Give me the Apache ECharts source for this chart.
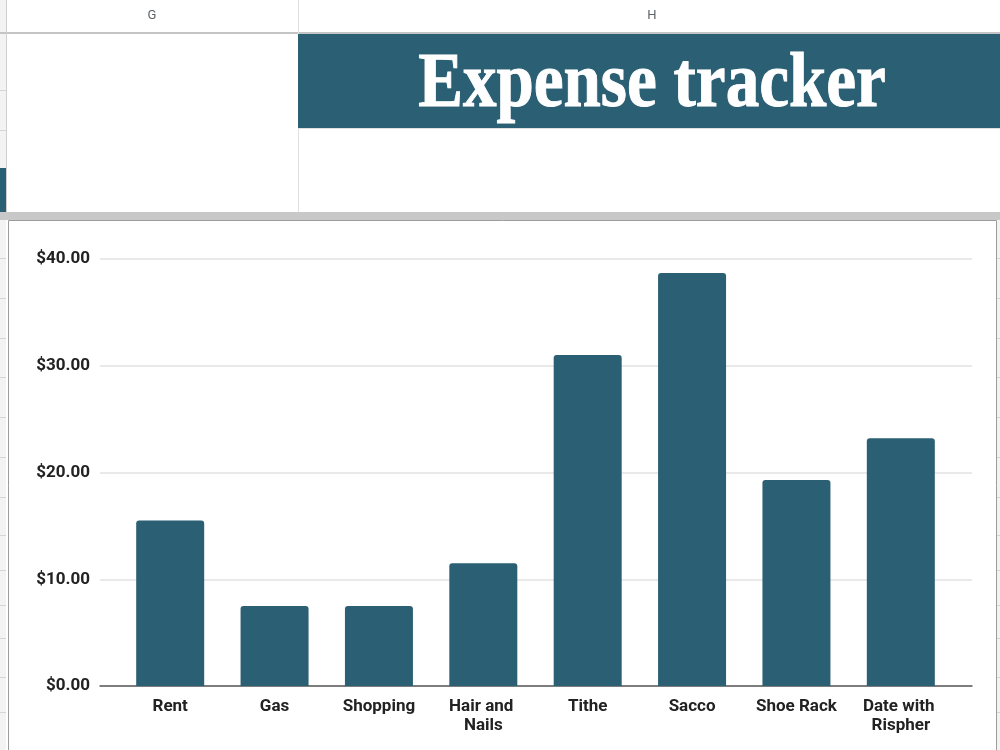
<!DOCTYPE html>
<html>
<head>
<meta charset="utf-8">
<script src="https://cdn.jsdelivr.net/npm/echarts@6/dist/echarts.min.js"></script>
<style>
  html, body { margin: 0; padding: 0; background: #fff; }
  #chart { width: 1000px; height: 750px; }
</style>
</head>
<body>
<div id="chart"></div>
<script>
var categories = ["Rent", "Gas", "Shopping", "Hair and Nails", "Tithe", "Sacco", "Shoe Rack", "Date with Rispher"];
var amounts = [15.5, 7.5, 7.5, 11.5, 31, 38.7, 19.3, 23.2];
var yTicks = [0, 10, 20, 30, 40];

var teal = "#2a5f74";
var chart = echarts.init(document.getElementById("chart"));

// sheet row lines on the left/right strip (decoration only)
var rowLines = [258, 298, 338, 377, 417, 457, 497, 535, 570, 605, 638, 677, 712];
var sheetBits = [
  // header row + strips
  { type: "rect", shape: { x: 0, y: 0, width: 6, height: 750 }, style: { fill: "#f3f3f3" } },
  { type: "rect", shape: { x: 997, y: 220, width: 3, height: 530 }, style: { fill: "#f3f3f3" } },
  { type: "line", shape: { x1: 0, y1: 33, x2: 1000, y2: 33 }, style: { stroke: "#c4c4c4", lineWidth: 2 } },
  { type: "line", shape: { x1: 6.5, y1: 0, x2: 6.5, y2: 212 }, style: { stroke: "#cfcfcf", lineWidth: 1 } },
  { type: "line", shape: { x1: 298.5, y1: 0, x2: 298.5, y2: 212 }, style: { stroke: "#e0e0e0", lineWidth: 1 } },
  { type: "line", shape: { x1: 0, y1: 90.5, x2: 6, y2: 90.5 }, style: { stroke: "#d6d6d6", lineWidth: 1 } },
  { type: "line", shape: { x1: 0, y1: 130.5, x2: 6, y2: 130.5 }, style: { stroke: "#d6d6d6", lineWidth: 1 } },
  { type: "rect", shape: { x: 0, y: 168, width: 6, height: 44 }, style: { fill: teal } },
  { type: "text", x: 152, y: 16, style: { text: "G", font: "13px Roboto", fill: "#5f6368", align: "center", verticalAlign: "middle" } },
  { type: "text", x: 652, y: 16, style: { text: "H", font: "13px Roboto", fill: "#5f6368", align: "center", verticalAlign: "middle" } },
  // title banner
  { type: "rect", shape: { x: 298, y: 34, width: 702, height: 94 }, style: { fill: teal } },
  { type: "line", shape: { x1: 298, y1: 128.5, x2: 1000, y2: 128.5 }, style: { stroke: "#e0e0e0", lineWidth: 1 } },
  { type: "text", x: 652, y: 86, scaleX: 0.86, originX: 0, originY: 0,
    style: { text: "Expense tracker", font: "bold 78px 'Liberation Serif', 'Times New Roman', serif", fill: "#ffffff",
      stroke: "#ffffff", lineWidth: 1, align: "center", verticalAlign: "middle" } },
  // frozen divider + chart box
  { type: "rect", shape: { x: 0, y: 212, width: 1000, height: 8 }, style: { fill: "#c8c8c8" } },
  { type: "rect", shape: { x: 8.5, y: 220.5, width: 988, height: 540 }, style: { fill: "#ffffff", stroke: "#9c9c9c", lineWidth: 1 } }
];
rowLines.forEach(function (y) {
  sheetBits.push({ type: "line", shape: { x1: 0, y1: y + 0.5, x2: 6, y2: y + 0.5 }, style: { stroke: "#d6d6d6", lineWidth: 1 } });
  sheetBits.push({ type: "line", shape: { x1: 997, y1: y + 0.5, x2: 1000, y2: y + 0.5 }, style: { stroke: "#d6d6d6", lineWidth: 1 } });
});

chart.setOption({
  animation: false,
  graphic: { elements: sheetBits },
  grid: [
    { left: 100, right: 28, top: 259, height: 427 },
    { left: 118, right: 47, top: 259, height: 427 }
  ],
  xAxis: [
    {
      gridIndex: 0,
      type: "value",
      min: 0,
      max: 1,
      axisLine: { show: true, lineStyle: { color: "#5a5a5a", width: 1.5 } },
      axisTick: { show: false },
      axisLabel: { show: false },
      splitLine: { show: false }
    },
    {
      gridIndex: 1,
      type: "category",
      data: categories,
      axisLine: { show: false },
      axisTick: { show: false },
      axisLabel: {
        interval: 0,
        margin: 11,
        width: 96,
        overflow: "break",
        lineHeight: 19,
        color: "#222",
        fontFamily: "Roboto",
        fontWeight: "bold",
        fontSize: 17
      }
    }
  ],
  yAxis: [
    {
      gridIndex: 0,
      type: "value",
      min: yTicks[0],
      max: yTicks[yTicks.length - 1],
      interval: 10,
      axisLine: { show: false },
      axisTick: { show: false },
      axisLabel: {
        margin: 10,
        color: "#222",
        fontFamily: "Roboto",
        fontWeight: "bold",
        fontSize: 17,
        formatter: function (v) { return "$" + v.toFixed(2); }
      },
      splitLine: { lineStyle: { color: "#e2e2e2", width: 1.5 } }
    },
    {
      gridIndex: 1,
      type: "value",
      min: yTicks[0],
      max: yTicks[yTicks.length - 1],
      show: false
    }
  ],
  series: [
    {
      type: "bar",
      xAxisIndex: 1,
      yAxisIndex: 1,
      data: amounts,
      barWidth: 68,
      itemStyle: { color: teal, borderRadius: [3, 3, 0, 0] }
    }
  ]
});
</script>
</body>
</html>
